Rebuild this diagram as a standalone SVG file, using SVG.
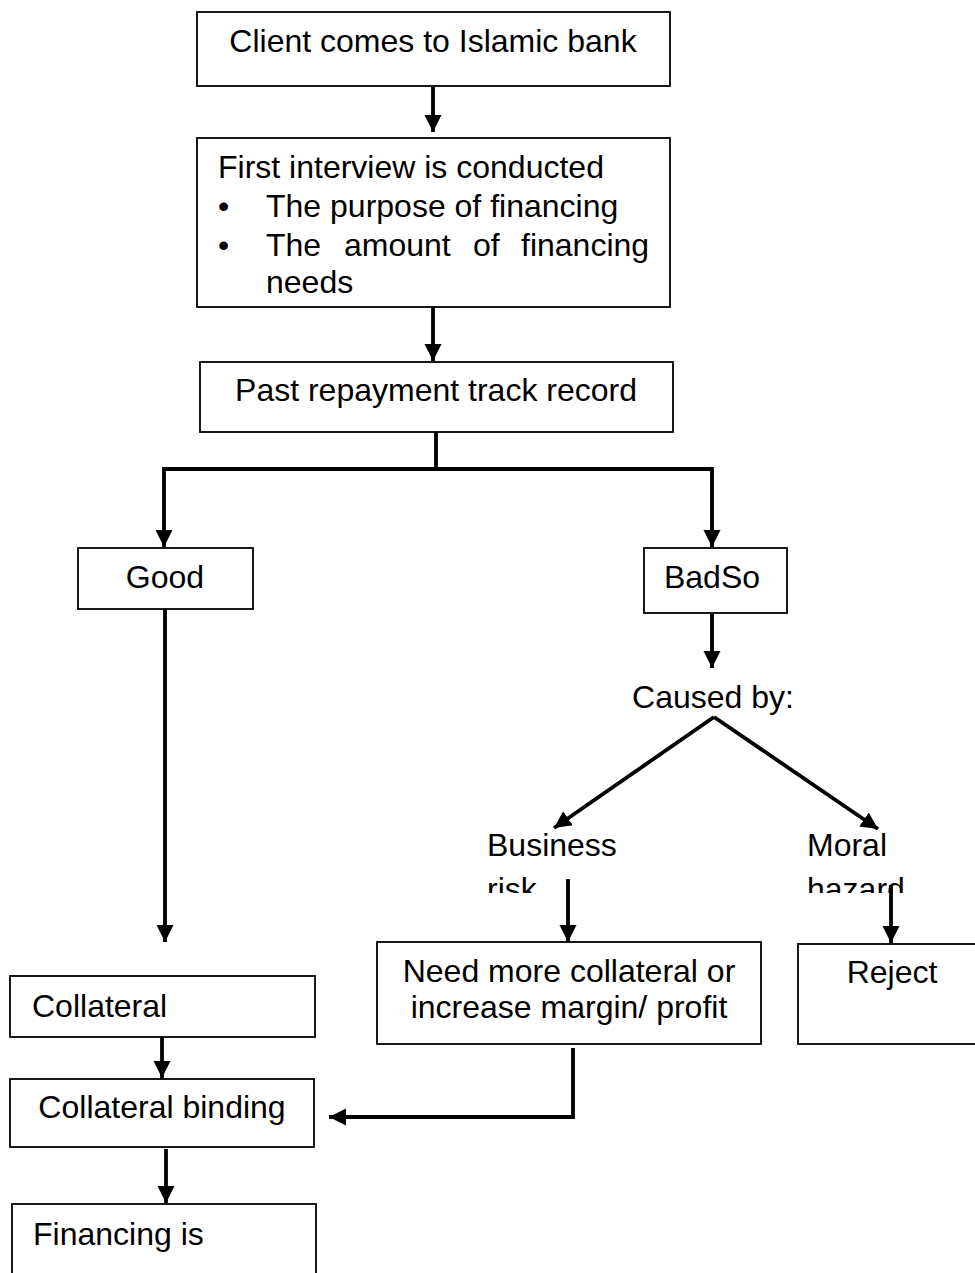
<svg xmlns="http://www.w3.org/2000/svg" width="975" height="1273" viewBox="0 0 975 1273">
<style>
.box{fill:#fff;stroke:#000;stroke-width:1.8}
.t{font-family:"Liberation Sans",Arial,sans-serif;font-size:32px;fill:#000}
.c{text-anchor:middle}
.ln{fill:none;stroke:#000;stroke-width:3.8}
</style>
<defs>
<marker id="ah" markerUnits="userSpaceOnUse" markerWidth="18" markerHeight="18" refX="17" refY="9" orient="auto">
<path d="M0,0.5 L17,9 L0,17.5 z" fill="#000"/>
</marker>
<clipPath id="clipRisk"><rect x="0" y="860" width="975" height="33"/></clipPath>
</defs>
<rect width="975" height="1273" fill="#fff"/>
<g id="connectors">
<path class="ln" d="M433,87 V132" marker-end="url(#ah)"/>
<path class="ln" d="M433,307 V361" marker-end="url(#ah)"/>
<path class="ln" d="M436,432 V469"/>
<path class="ln" d="M436,469 H164 V547" marker-end="url(#ah)"/>
<path class="ln" d="M436,469 H712 V547" marker-end="url(#ah)"/>
<path class="ln" d="M165,609 V942" marker-end="url(#ah)"/>
<path class="ln" d="M712,613 V668" marker-end="url(#ah)"/>
<path class="ln" d="M714,717 L554,828" marker-end="url(#ah)"/>
<path class="ln" d="M714,717 L878,829" marker-end="url(#ah)"/>
<path class="ln" d="M568,879 V942" marker-end="url(#ah)"/>
<path class="ln" d="M891,885 V943" marker-end="url(#ah)"/>
<path class="ln" d="M162,1037 V1078" marker-end="url(#ah)"/>
<path class="ln" d="M573,1048 V1117 H329" marker-end="url(#ah)"/>
<path class="ln" d="M166,1149 V1203" marker-end="url(#ah)"/>
</g>
<g id="n-client">
<rect class="box" x="197" y="12" width="473" height="74"/>
<text class="t c" x="433" y="52">Client comes to Islamic bank</text>
</g>
<g id="n-interview">
<rect class="box" x="197" y="138" width="473" height="169"/>
<text class="t" x="218" y="178">First interview is conducted</text>
<text class="t" x="218" y="217">•</text>
<text class="t" x="266" y="217">The purpose of financing</text>
<text class="t" x="218" y="256">•</text>
<text class="t" y="256"><tspan x="266">The</tspan><tspan x="344">amount</tspan><tspan x="473">of</tspan><tspan x="521">financing</tspan></text>
<text class="t" x="266" y="293">needs</text>
</g>
<g id="n-past">
<rect class="box" x="200" y="362" width="473" height="70"/>
<text class="t c" x="436" y="401">Past repayment track record</text>
</g>
<g id="n-good">
<rect class="box" x="78" y="548" width="175" height="61"/>
<text class="t c" x="165" y="588">Good</text>
</g>
<g id="n-bad">
<rect class="box" x="644" y="548" width="143" height="65"/>
<text class="t c" x="712" y="588">BadSo</text>
</g>
<g id="n-caused">
<text class="t c" x="713" y="708">Caused by:</text>
</g>
<g id="n-business">
<text class="t" x="487" y="856">Business</text>
<text class="t" x="487" y="900" clip-path="url(#clipRisk)">risk</text>
</g>
<g id="n-moral">
<text class="t" x="807" y="856">Moral</text>
<text class="t" x="807" y="900" clip-path="url(#clipRisk)">hazard</text>
</g>
<g id="n-need">
<rect class="box" x="377" y="942" width="384" height="102"/>
<text class="t c" x="569" y="982">Need more collateral or</text>
<text class="t c" x="569" y="1018">increase margin/ profit</text>
</g>
<g id="n-reject">
<rect class="box" x="798" y="944" width="190" height="100"/>
<text class="t c" x="892" y="983">Reject</text>
</g>
<g id="n-collateral">
<rect class="box" x="10" y="976" width="305" height="61"/>
<text class="t" x="32" y="1017">Collateral</text>
</g>
<g id="n-binding">
<rect class="box" x="10" y="1079" width="304" height="68"/>
<text class="t c" x="162" y="1118">Collateral binding</text>
</g>
<g id="n-financing">
<rect class="box" x="12" y="1204" width="304" height="90"/>
<text class="t" x="33" y="1245">Financing is</text>
</g>
</svg>
